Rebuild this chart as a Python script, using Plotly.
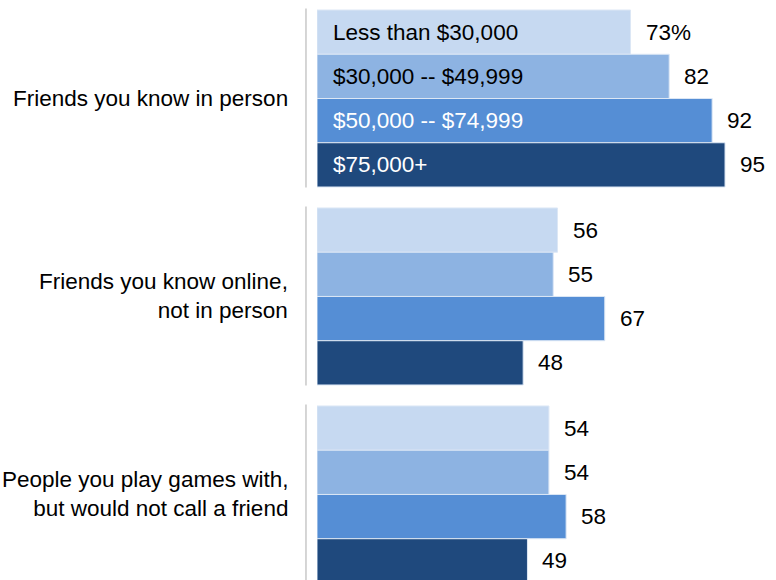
import plotly.graph_objects as go

categories = ["Friends you know in person",
              "Friends you know online,<br>not in person",
              "People you play games with,<br>but would not call a friend"]
series_names = ["Less than $30,000", "$30,000 -- $49,999", "$50,000 -- $74,999", "$75,000+"]
values = [
    [73, 56, 54],
    [82, 55, 54],
    [92, 67, 58],
    [95, 48, 49],
]
colors = ["#C6D9F1", "#8DB3E2", "#558ED5", "#1F497D"]
name_colors = ["#000000", "#000000", "#FFFFFF", "#FFFFFF"]

FONT = "Liberation Sans"
FS = 22.5

fig = go.Figure()
for i, (nm, vals) in enumerate(zip(series_names, values)):
    fig.add_trace(go.Bar(
        y=list(range(len(categories))), x=vals, orientation="h", name=nm,
        marker=dict(color=colors[i], line=dict(color="#dce7f5", width=1)),
        hoverinfo="skip",
    ))

annotations = []
n = len(series_names)
group_w = 1 - 0.106
bar_w = group_w / n
for i, vals in enumerate(values):
    for j, v in enumerate(vals):
        yc = j - group_w / 2 + bar_w * (i + 0.5)
        label = f"{v}%" if (i == 0 and j == 0) else f"{v}"
        annotations.append(dict(x=v, y=yc, xref="x", yref="y", text=label,
                                showarrow=False, xanchor="left", xshift=13,
                                font=dict(family=FONT, size=FS, color="#000")))
        if j == 0:
            annotations.append(dict(x=0, y=yc, xref="x", yref="y", text=series_names[i],
                                    showarrow=False, xanchor="left", xshift=14,
                                    font=dict(family=FONT, size=FS, color=name_colors[i])))

for j, cat in enumerate(categories):
    annotations.append(dict(x=0, y=j, xref="paper", yref="y", text=cat,
                            showarrow=False, xanchor="right", xshift=-27, align="right",
                            font=dict(family=FONT, size=FS, color="#000")))

shapes = []
for j in range(len(categories)):
    shapes.append(dict(type="line", xref="paper", yref="y",
                       x0=-0.024, x1=-0.024, y0=j - 0.455, y1=j + 0.45,
                       line=dict(color="#c8c8c8", width=1.5)))

fig.update_layout(
    width=776, height=580,
    margin=dict(l=317, r=0, t=0, b=0),
    barmode="group", bargap=0.106, bargroupgap=0,
    plot_bgcolor="white", paper_bgcolor="white",
    showlegend=False,
    xaxis=dict(range=[0, 459 / 4.295], visible=False, fixedrange=True),
    yaxis=dict(range=[2.432, -0.4975], visible=False, fixedrange=True),
    annotations=annotations, shapes=shapes,
)
fig.write_html("out.html", config={"displayModeBar": False},
               post_script="document.body.style.margin='0';")
